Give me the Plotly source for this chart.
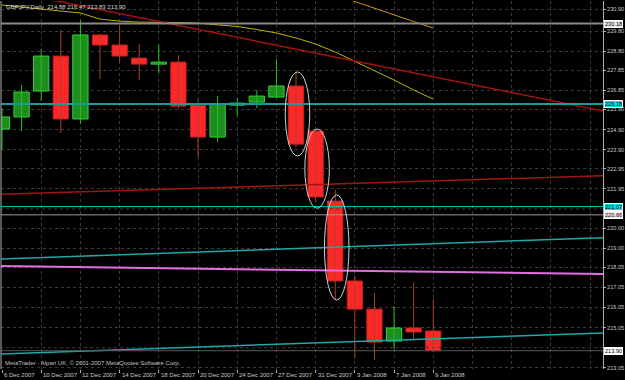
import plotly.graph_objects as go

# ---------------- data ----------------
dates = ['6 Dec 2007', '7 Dec 2007', '10 Dec 2007', '11 Dec 2007', '12 Dec 2007',
         '13 Dec 2007', '14 Dec 2007', '17 Dec 2007', '18 Dec 2007', '19 Dec 2007',
         '20 Dec 2007', '21 Dec 2007', '24 Dec 2007', '26 Dec 2007', '27 Dec 2007',
         '28 Dec 2007', '31 Dec 2007', '2 Jan 2008', '3 Jan 2008', '4 Jan 2008',
         '7 Jan 2008', '8 Jan 2008', '9 Jan 2008']
opens = [224.93, 225.53, 226.82, 228.56, 225.43, 229.61, 229.11, 228.46, 228.16, 228.26,
         226.12, 224.53, 226.12, 226.27, 226.52, 227.07, 224.83, 221.35, 217.37, 215.97,
         214.38, 215.03, 214.88]
highs = [225.95, 227.12, 228.91, 229.86, 230.35, 229.66, 230.10, 229.16, 229.11, 228.61,
         226.42, 226.57, 226.47, 226.87, 228.41, 227.72, 224.93, 221.90, 217.62, 216.77,
         216.12, 217.32, 216.47]
lows = [223.93, 224.83, 226.32, 224.73, 225.18, 227.42, 228.26, 227.37, 227.72, 225.92,
        223.54, 224.28, 225.58, 225.97, 226.47, 224.03, 221.30, 216.42, 213.54, 213.44,
        213.98, 214.43, 213.83]
closes = [225.53, 226.77, 228.56, 225.43, 229.61, 229.11, 228.56, 228.16, 228.26, 226.07,
          224.53, 226.17, 226.22, 226.57, 227.07, 224.18, 221.55, 217.37, 215.97, 214.33,
          215.03, 214.83, 213.90]

ma_yellow = [231.10, 231.00, 230.90, 230.80, 230.70, 230.40, 230.30, 230.25, 230.25, 230.23,
             230.20, 230.13, 230.03, 229.88, 229.71, 229.46, 229.16, 228.76, 228.31, 227.86,
             227.37, 226.87, 226.42]
ma_orange_first = 16
ma_orange = [231.94, 231.60, 231.27, 230.93, 230.60, 230.28, 229.95]

level_prices = [230.18, 226.18, 221.07, 220.66]

trend_x = [-0.1, 30.8]
trend_cyan_upper = [218.46, 219.53]
trend_cyan_lower = [213.74, 214.79]
trend_violet = [218.11, 217.72]
trend_darkred = [221.68, 222.61]
steep_red_x = [0.0, 30.8]
steep_red_y = [231.85, 225.80]

ellipse_bars = [15, 16, 17]
ellipse_hi = [227.77, 224.93, 221.65]
ellipse_lo = [223.59, 220.99, 216.42]

ytick_vals = [230.90, 229.80, 228.80, 227.85, 226.85, 225.90, 224.90, 223.90, 222.95,
              221.95, 220.00, 219.00, 218.05, 217.05, 216.05, 215.05, 213.05]
grid_extra = [220.95, 214.05]

header = "GBPJPY,Daily  214.88 216.47 213.83 213.90"
copyright_txt = "MetaTrader - Alpari UK, \u00a9 2001-2007 MetaQuotes Software Corp."

# ---------------- figure ----------------
FONT = "Liberation Sans"
GRID = "#3a3a3a"
fig = go.Figure()
idx = list(range(len(dates)))
up = [i for i in idx if closes[i] >= opens[i]]
dn = [i for i in idx if closes[i] < opens[i]]


def wicks(ids):
    xs, ys = [], []
    for i in ids:
        xs += [i, i, None]
        ys += [lows[i], highs[i], None]
    return xs, ys


# extra dotted grid rows whose labels are hidden behind price boxes
for g in grid_extra:
    fig.add_trace(go.Scatter(x=trend_x, y=[g, g], mode="lines",
                             line=dict(color=GRID, width=1, dash="dot"), hoverinfo="skip"))

wx, wy = wicks(up)
fig.add_trace(go.Scatter(x=wx, y=wy, mode="lines", line=dict(color="#22c422", width=1),
                         hoverinfo="skip"))
wx, wy = wicks(dn)
fig.add_trace(go.Scatter(x=wx, y=wy, mode="lines", line=dict(color="#a8402c", width=1),
                         hoverinfo="skip"))

fig.add_trace(go.Bar(x=up, y=[closes[i] - opens[i] for i in up], base=[opens[i] for i in up],
                     width=0.78,
                     marker=dict(color="#1f8c1f", line=dict(color="#2fd42f", width=1)),
                     hoverinfo="skip"))
fig.add_trace(go.Bar(x=dn, y=[opens[i] - closes[i] for i in dn], base=[closes[i] for i in dn],
                     width=0.78,
                     marker=dict(color="#ff2a2a", line=dict(color="#c41e1e", width=1),
                                 pattern=dict(shape="x", fgcolor="#d81010", size=3,
                                              solidity=0.2, fillmode="overlay")),
                     hoverinfo="skip"))

# moving averages
fig.add_trace(go.Scatter(x=idx, y=ma_yellow, mode="lines", line=dict(color="#b8b400", width=1),
                         hoverinfo="skip"))
fig.add_trace(go.Scatter(x=list(range(ma_orange_first, ma_orange_first + len(ma_orange))),
                         y=ma_orange, mode="lines", line=dict(color="#d09020", width=1),
                         hoverinfo="skip"))

# trend lines
fig.add_trace(go.Scatter(x=steep_red_x, y=steep_red_y, mode="lines",
                         line=dict(color="#a51212", width=1.5), hoverinfo="skip"))
fig.add_trace(go.Scatter(x=trend_x, y=trend_darkred, mode="lines",
                         line=dict(color="#a01616", width=1.5), hoverinfo="skip"))
fig.add_trace(go.Scatter(x=trend_x, y=trend_violet, mode="lines",
                         line=dict(color="#e070e0", width=2), hoverinfo="skip"))
fig.add_trace(go.Scatter(x=trend_x, y=trend_cyan_upper, mode="lines",
                         line=dict(color="#1ea8a8", width=1.5), hoverinfo="skip"))
fig.add_trace(go.Scatter(x=trend_x, y=trend_cyan_lower, mode="lines",
                         line=dict(color="#1ea8a8", width=1.5), hoverinfo="skip"))

# horizontal levels
level_styles = [("#8c8c8c", 2), ("#1a9a9a", 2), ("#00c8c8", 1), ("#9a9a9a", 1)]
for p, (c, w) in zip(level_prices, level_styles):
    fig.add_trace(go.Scatter(x=trend_x, y=[p, p], mode="lines", line=dict(color=c, width=w),
                             hoverinfo="skip"))
fig.add_trace(go.Scatter(x=trend_x, y=[closes[-1], closes[-1]], mode="lines",
                         line=dict(color="#5a5a5a", width=1), hoverinfo="skip"))

# ellipses
shapes = []
for b, hi, lo in zip(ellipse_bars, ellipse_hi, ellipse_lo):
    shapes.append(dict(type="circle", xref="x", yref="y", x0=b - 0.55, x1=b + 0.7,
                       y0=lo, y1=hi, line=dict(color="#d0d0d0", width=1), layer="above"))
shapes.append(dict(type="line", xref="paper", yref="paper", x0=0, x1=0, y0=0, y1=1,
                   line=dict(color="#b0b0b0", width=1)))

annotations = []
for i in range(0, len(dates), 2):
    annotations.append(dict(x=i, xref="x", y=0, yref="paper", text=dates[i], showarrow=False,
                            xanchor="left", yanchor="top", xshift=0, yshift=-1,
                            font=dict(family=FONT, size=6, color="#c8c8c8")))
box_styles = [("#e8e8e8", "#000000"), ("#00e0e0", "#000000"),
              ("#00e0e0", "#000000"), ("#e8e8e8", "#000000")]
for p, (bg, fc) in zip(level_prices + [closes[-1]], box_styles + [("#ffffff", "#000000")]):
    annotations.append(dict(x=1, xref="paper", y=p, yref="y", text=f"{p:.2f}",
                            showarrow=False, xanchor="left", yanchor="middle", xshift=1,
                            height=6, bgcolor=bg, bordercolor="#ffffff", borderwidth=1,
                            borderpad=0,
                            font=dict(family=FONT, size=5.6, color=fc)))
annotations.append(dict(x=0, xref="paper", y=1, yref="paper", text=header, showarrow=False,
                        xanchor="left", yanchor="top", xshift=3, yshift=-1,
                        font=dict(family=FONT, size=6, color="#d8d8d8")))
annotations.append(dict(x=0, xref="paper", y=0, yref="paper", text=copyright_txt,
                        showarrow=False, xanchor="left", yanchor="bottom", xshift=2, yshift=1,
                        font=dict(family=FONT, size=6, color="#c0c0c0")))

fig.update_layout(
    template="none",
    width=625, height=380,
    margin=dict(l=1, r=22, t=1, b=11),
    paper_bgcolor="#000000", plot_bgcolor="#000000",
    showlegend=False, barmode="overlay",
    shapes=shapes, annotations=annotations,
    xaxis=dict(range=[-0.051, 30.66], tickvals=list(range(0, len(dates), 2)),
               showticklabels=False, ticks="outside", ticklen=3, tickcolor="#b0b0b0",
               showgrid=True, gridcolor=GRID, griddash="dot", gridwidth=1,
               minor=dict(dtick=2, tick0=0, showgrid=True, gridcolor=GRID,
                          griddash="dot"),
               zeroline=False, showline=False, automargin=False, fixedrange=True),
    yaxis=dict(range=[212.99, 231.30], side="right", tickvals=ytick_vals,
               ticktext=[f"{v:.2f}" for v in ytick_vals], ticks="outside", ticklen=2,
               tickcolor="#b0b0b0", tickfont=dict(family=FONT, size=5.6, color="#c8c8c8"),
               showgrid=True, gridcolor=GRID, griddash="dot", gridwidth=1,
               showline=True, linecolor="#b0b0b0", linewidth=1, zeroline=False,
               automargin=False, fixedrange=True),
)

fig.write_html("out.html")
